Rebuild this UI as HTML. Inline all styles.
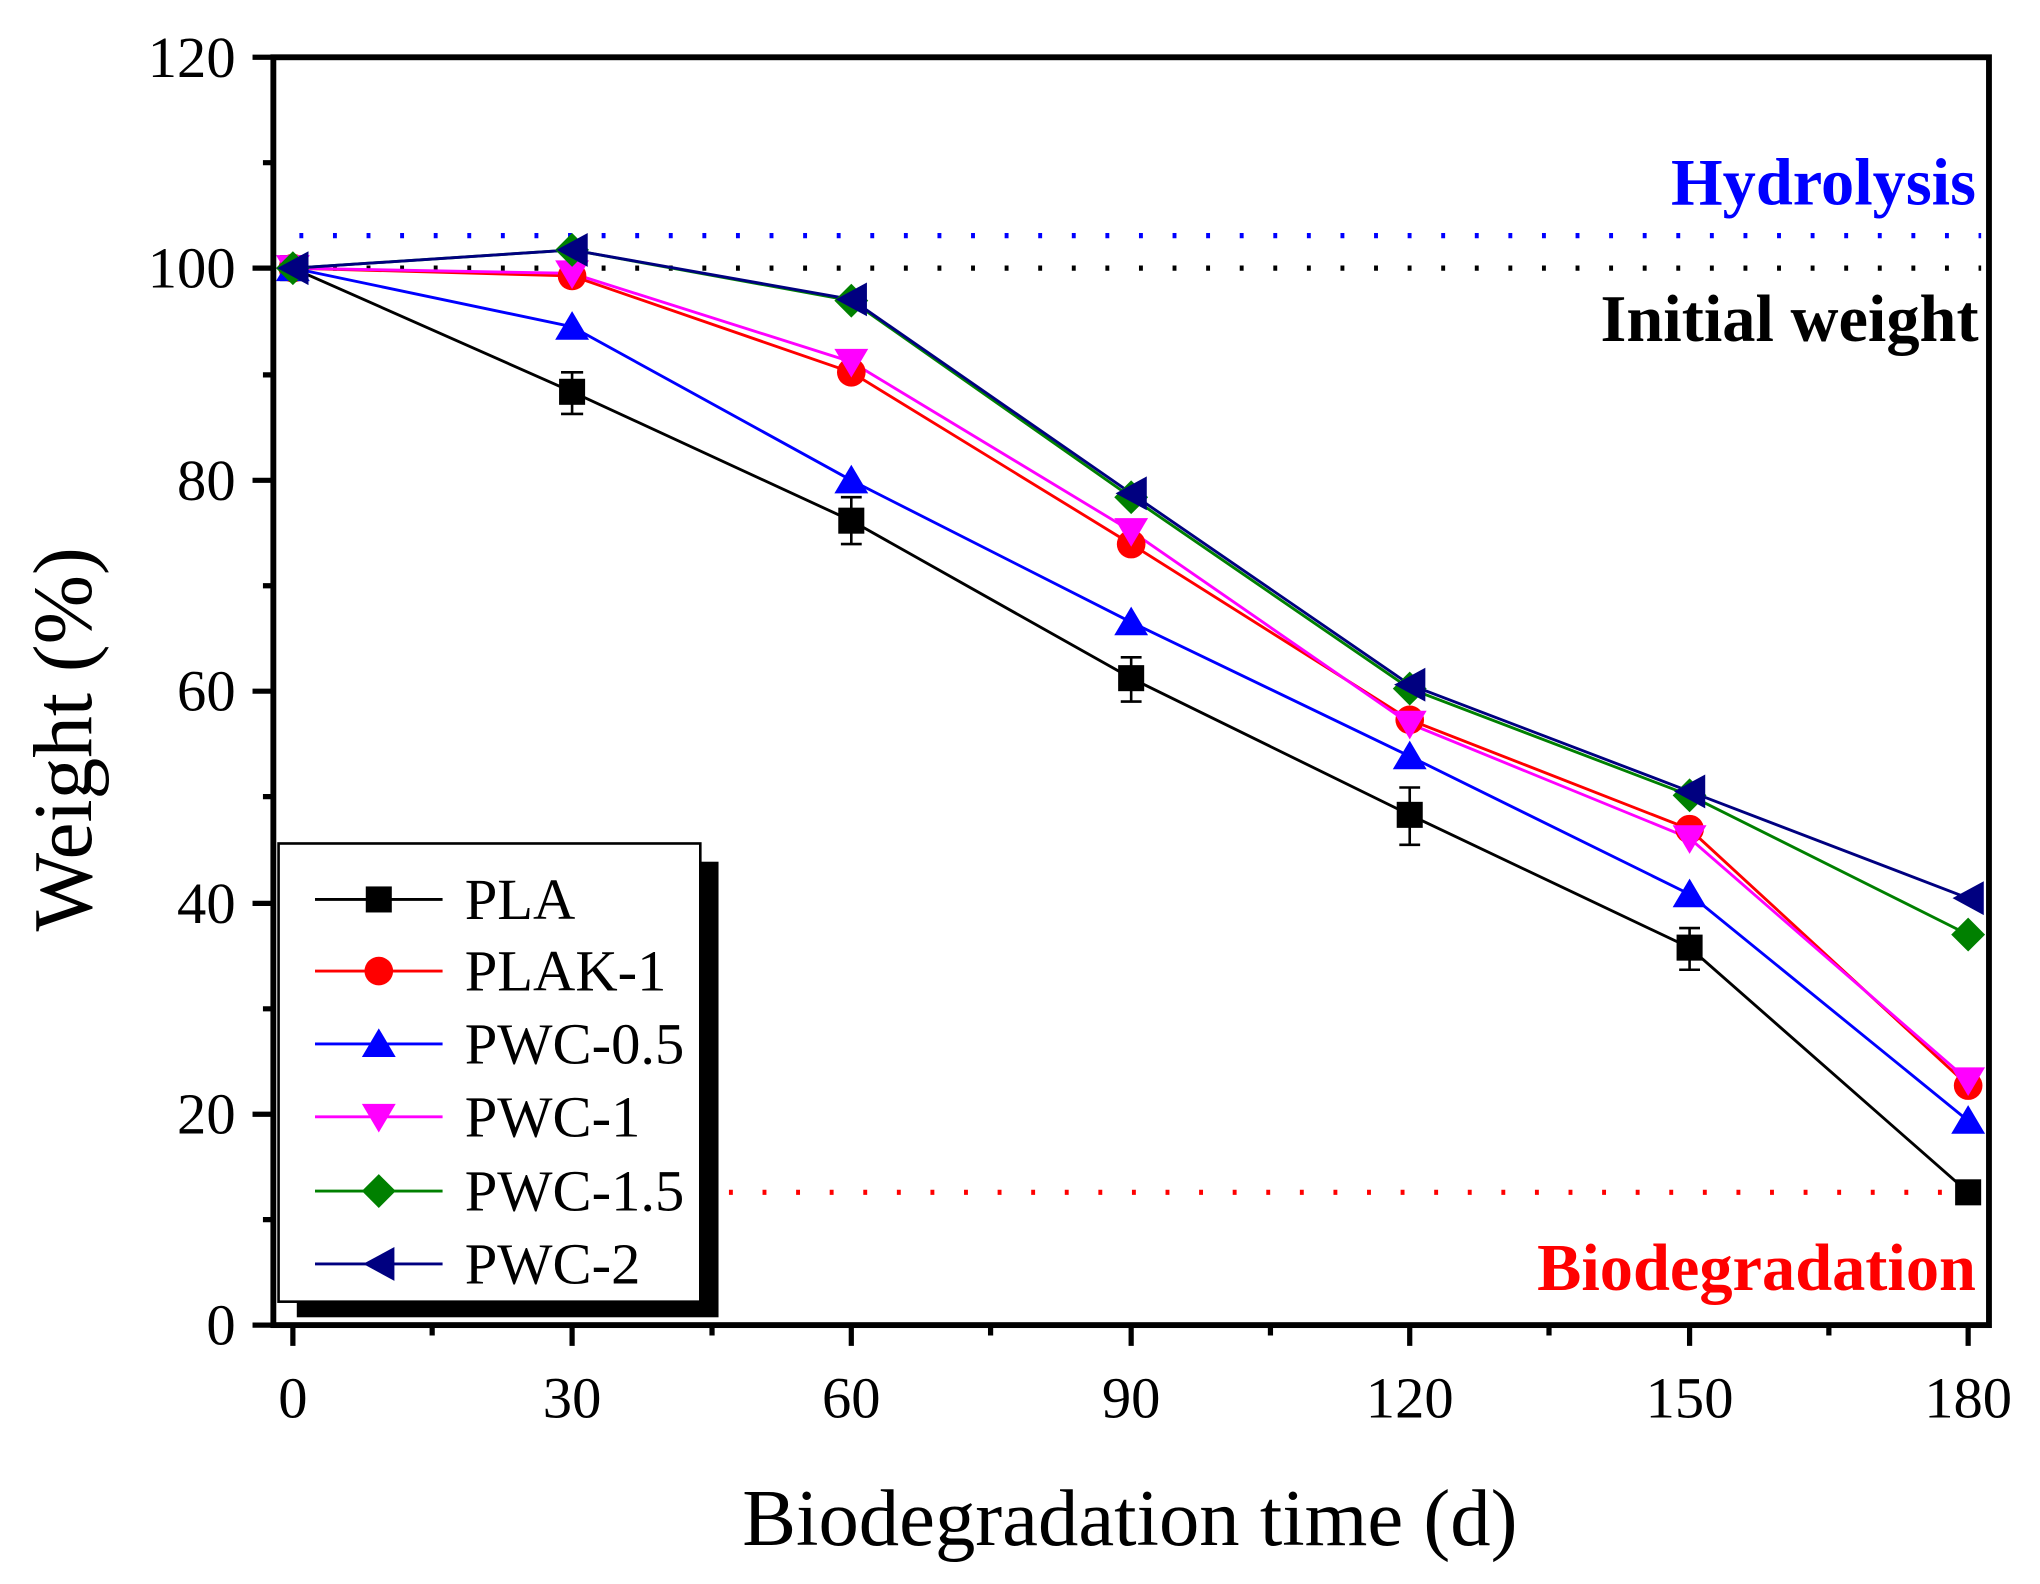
<!DOCTYPE html>
<html><head><meta charset="utf-8"><style>
html,body{margin:0;padding:0;background:#fff;}
svg{display:block;}
text{font-family:"Liberation Serif",serif;}
</style></head><body>
<svg width="2040" height="1584" viewBox="0 0 1567.2 1216.9" preserveAspectRatio="none" xmlns="http://www.w3.org/2000/svg">
<!-- reference lines -->
<line x1="230" y1="181" x2="1522" y2="181" stroke="#0000ff" stroke-width="4" stroke-dasharray="3,22.8"/>
<line x1="230" y1="206" x2="1522" y2="206" stroke="#000" stroke-width="4" stroke-dasharray="3,22.8"/>
<line x1="560" y1="916" x2="1522" y2="916" stroke="#ff0000" stroke-width="4" stroke-dasharray="3,22.8"/>
<text x="1518" y="157" text-anchor="end" font-size="51" font-weight="bold" fill="#0000ff">Hydrolysis</text>
<text x="1520" y="262" text-anchor="end" font-size="51" font-weight="bold" fill="#000">Initial weight</text>
<text x="1518" y="991" text-anchor="end" font-size="51" font-weight="bold" fill="#ff0000">Biodegradation</text>

<g fill="none" stroke-width="2.2">
<g stroke="#000" stroke-width="2">
<path d="M439.5 286V318 M431 286H448 M431 318H448"/>
<path d="M654 382V418 M646 382H662 M646 418H662"/>
<path d="M869 505V539 M861 505H877 M861 539H877"/>
<path d="M1083 605V649 M1075 605H1091 M1075 649H1091"/>
<path d="M1298 713V745 M1290 713H1306 M1290 745H1306"/>
</g>
<polyline stroke="#000" points="225,206 439.5,301 654,400 869,521 1083,626 1298,728 1512,916"/>
<polyline stroke="#ff0000" points="225,206 439.5,212 654,286 869,418 1083,553 1298,637 1512,834"/>
<polyline stroke="#0000ff" points="225,206 439.5,251 654,369 869,478 1083,581 1298,687 1512,861"/>
<polyline stroke="#ff00ff" points="225,206 439.5,210 654,278 869,408 1083,556 1298,644 1512,830"/>
<polyline stroke="#008000" points="225,206 439.5,192 654,231 869,382 1083,529 1298,611 1512,718"/>
<polyline stroke="#000080" points="225,206 439.5,192 654,230 869,379 1083,526 1298,608 1512,690"/>
</g>
<g fill="#000"><rect x="215" y="196" width="20" height="20"/><rect x="429.5" y="291" width="20" height="20"/><rect x="644" y="390" width="20" height="20"/><rect x="859" y="511" width="20" height="20"/><rect x="1073" y="616" width="20" height="20"/><rect x="1288" y="718" width="20" height="20"/><rect x="1502" y="906" width="20" height="20"/></g>
<g fill="#ff0000"><circle cx="225" cy="206" r="11"/><circle cx="439.5" cy="212" r="11"/><circle cx="654" cy="286" r="11"/><circle cx="869" cy="418" r="11"/><circle cx="1083" cy="553" r="11"/><circle cx="1298" cy="637" r="11"/><circle cx="1512" cy="834" r="11"/></g>
<g fill="#0000ff"><path d="M225 194l13 22h-26z"/><path d="M439.5 239l13 22h-26z"/><path d="M654 357l13 22h-26z"/><path d="M869 466l13 22h-26z"/><path d="M1083 569l13 22h-26z"/><path d="M1298 675l13 22h-26z"/><path d="M1512 849l13 22h-26z"/></g>
<g fill="#ff00ff"><path d="M225 218l13 -22h-26z"/><path d="M439.5 222l13 -22h-26z"/><path d="M654 290l13 -22h-26z"/><path d="M869 420l13 -22h-26z"/><path d="M1083 568l13 -22h-26z"/><path d="M1298 656l13 -22h-26z"/><path d="M1512 842l13 -22h-26z"/></g>
<g fill="#008000"><path d="M225 193l13 13-13 13-13-13z"/><path d="M439.5 179l13 13-13 13-13-13z"/><path d="M654 218l13 13-13 13-13-13z"/><path d="M869 369l13 13-13 13-13-13z"/><path d="M1083 516l13 13-13 13-13-13z"/><path d="M1298 598l13 13-13 13-13-13z"/><path d="M1512 705l13 13-13 13-13-13z"/></g>
<g fill="#000080"><path d="M213 206l24-13v26z"/><path d="M427.5 192l24-13v26z"/><path d="M642 230l24-13v26z"/><path d="M857 379l24-13v26z"/><path d="M1071 526l24-13v26z"/><path d="M1286 608l24-13v26z"/><path d="M1500 690l24-13v26z"/></g>

<!-- legend -->
<rect x="228" y="662" width="324" height="350" fill="#000"/>
<rect x="214" y="648" width="324" height="352" fill="#fff" stroke="#000" stroke-width="2"/>
<g stroke-width="2.2" font-size="45">
<line x1="242" y1="691" x2="340" y2="691" stroke="#000"/><rect x="281" y="681" width="20" height="20" fill="#000"/><text x="357" y="706">PLA</text>
<line x1="242" y1="746" x2="340" y2="746" stroke="#f00"/><circle cx="291" cy="746" r="11" fill="#f00"/><text x="357" y="761">PLAK-1</text>
<line x1="242" y1="802" x2="340" y2="802" stroke="#00f"/><path d="M291 790l13 22h-26z" fill="#00f"/><text x="357" y="817">PWC-0.5</text>
<line x1="242" y1="858" x2="340" y2="858" stroke="#f0f"/><path d="M291 870l13 -22h-26z" fill="#f0f"/><text x="357" y="873">PWC-1</text>
<line x1="242" y1="915" x2="340" y2="915" stroke="#008000"/><path d="M291 902l13 13-13 13-13-13z" fill="#008000"/><text x="357" y="930">PWC-1.5</text>
<line x1="242" y1="971" x2="340" y2="971" stroke="#000080"/><path d="M279 971l24-13v26z" fill="#000080"/><text x="357" y="986">PWC-2</text>
</g>

<!-- frame -->
<rect x="210" y="44" width="1318" height="974" fill="none" stroke="#000" stroke-width="4.5"/>
<g stroke="#000" stroke-width="4">
<path d="M194 1018H210 M194 856H210 M194 694H210 M194 531H210 M194 369H210 M194 206H210 M194 44H210"/>
<path d="M202 937H210 M202 775H210 M202 612H210 M202 450H210 M202 288H210 M202 125H210"/>
<path d="M225 1018V1034 M439.5 1018V1034 M654 1018V1034 M869 1018V1034 M1083 1018V1034 M1298 1018V1034 M1512 1018V1034"/>
<path d="M332 1018V1026 M547 1018V1026 M761 1018V1026 M976 1018V1026 M1190 1018V1026 M1405 1018V1026"/>
</g>
<g font-size="45" text-anchor="end">
<text x="181" y="1033">0</text><text x="181" y="871">20</text><text x="181" y="709">40</text><text x="181" y="546">60</text><text x="181" y="384">80</text><text x="181" y="221">100</text><text x="181" y="59">120</text>
</g>
<g font-size="45" text-anchor="middle">
<text x="225" y="1089">0</text><text x="439.5" y="1089">30</text><text x="654" y="1089">60</text><text x="869" y="1089">90</text><text x="1083" y="1089">120</text><text x="1298" y="1089">150</text><text x="1512" y="1089">180</text>
</g>
<text x="868" y="1187" text-anchor="middle" font-size="62">Biodegradation time (d)</text>
<text transform="translate(70,568) rotate(-90)" text-anchor="middle" font-size="64">Weight (%)</text>
</svg>
</body></html>
